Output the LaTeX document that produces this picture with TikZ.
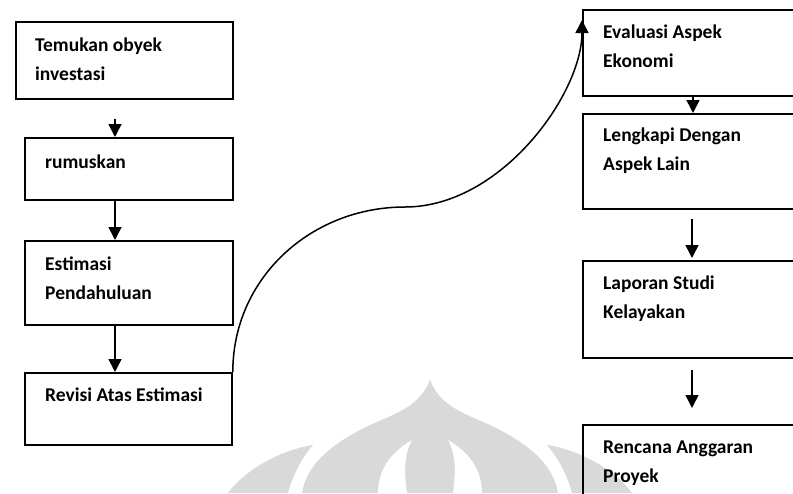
\documentclass[tikz,border=0pt]{standalone}
\usepackage{fontspec}
\setmainfont{Carlito}
\usetikzlibrary{calc,arrows.meta}
\tikzset{
  box/.style={draw=black, line width=1.8pt, rectangle, inner sep=0pt, anchor=north west},
  txt/.style={anchor=base west, inner sep=0pt, align=left, font=\fontsize{19.5}{29}\selectfont\bfseries},
  arr/.style={draw=black, line width=1.5pt, -{Triangle[length=13pt,width=13pt]}},
  wm/.style={fill=black!15, draw=none}
}
\begin{document}
\begin{tikzpicture}[x=1pt,y=-1pt]
\useasboundingbox (0,0) rectangle (793,493);
\clip (0,0) rectangle (793,493);
% watermark
\fill[wm] (430,380) .. controls (420,405) and (400,412) .. (370,425) .. controls (322,448) and (306,470) .. (302,493) -- (558,493) .. controls (554,470) and (538,448) .. (490,425) .. controls (460,412) and (440,405) .. (430,380) -- cycle;
\fill[white] (412,440) .. controls (386,455) and (378,475) .. (378,493) -- (407,493) .. controls (404,470) and (404,455) .. (412,440) -- cycle;
\fill[white] (448,440) .. controls (474,455) and (482,475) .. (482,493) -- (453,493) .. controls (456,470) and (456,455) .. (448,440) -- cycle;
\fill[wm] (228,493) .. controls (245,470) and (280,450) .. (313,445) .. controls (300,460) and (292,478) .. (288,493) -- cycle;
\fill[wm] (632,493) .. controls (615,470) and (580,450) .. (547,445) .. controls (560,460) and (568,478) .. (572,493) -- cycle;
% left boxes
\node[box, minimum width=217pt, minimum height=77pt] (b1) at (15,21) {};
\node[box, minimum width=208pt, minimum height=62pt] (b2) at (24,137) {};
\node[box, minimum width=208pt, minimum height=84pt] (b3) at (24,240) {};
\node[box, minimum width=207pt, minimum height=72pt] (b4) at (24,372) {};
% right boxes
\node[box, minimum width=240pt, minimum height=86pt] (b5) at (582,9) {};
\node[box, minimum width=240pt, minimum height=95pt] (b6) at (582,113) {};
\node[box, minimum width=240pt, minimum height=97pt] (b7) at (582,260) {};
\node[box, minimum width=240pt, minimum height=100pt] (b8) at (582,424) {};
% texts (anchor = baseline of last line)
\node[txt] (t1) at ($(b1.north west)+(20,59)$) {Temukan obyek\\investasi};
\node[txt] (t2) at ($(b2.north west)+(21,31)$) {rumuskan};
\node[txt] (t3) at ($(b3.north west)+(21,59)$) {Estimasi\\Pendahuluan};
\node[txt] (t4) at ($(b4.north west)+(21,29)$) {Revisi Atas Estimasi};
\node[txt] (t5) at ($(b5.north west)+(21,58)$) {Evaluasi Aspek\\Ekonomi};
\node[txt] (t6) at ($(b6.north west)+(21,57)$) {Lengkapi Dengan\\Aspek Lain};
\node[txt] (t7) at ($(b7.north west)+(21,58)$) {Laporan Studi\\Kelayakan};
\node[txt] (t8) at ($(b8.north west)+(21,58)$) {Rencana Anggaran\\Proyek};
% arrows
\draw[arr, shorten <=19pt] ([xshift=100pt]b1.south west) -- ([xshift=91pt]b2.north west);
\draw[arr] ([xshift=91pt]b2.south west) -- ([xshift=91pt]b3.north west);
\draw[arr] ([xshift=91pt]b3.south west) -- ([xshift=91pt]b4.north west);
\draw[arr] ([xshift=111pt]b5.south west) -- ([xshift=111pt]b6.north west);
\draw[arr, shorten <=9pt, shorten >=2pt] ([xshift=110pt]b6.south west) -- ([xshift=110pt]b7.north west);
\draw[arr, shorten <=11pt, shorten >=16pt] ([xshift=110pt]b7.south west) -- ([xshift=110pt]b8.north west);
% curve
\coordinate (mid) at (405,207);
\draw[arr] (b4.north east) .. controls ($(b4.north east)+(0,-94)$) and ($(mid)+(-94,0)$) .. (mid)
  .. controls ($(mid)+(96,0)$) and ($(b5.north west)+(0,85)$) .. ($(b5.north west)+(0,11)$);
\end{tikzpicture}
\end{document}
